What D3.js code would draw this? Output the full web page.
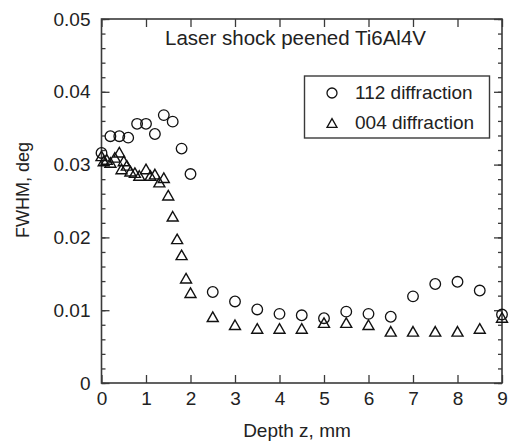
<!DOCTYPE html>
<html>
<head>
<meta charset="utf-8">
<script src="https://cdn.jsdelivr.net/npm/d3@7"></script>
<style>
  body { margin: 0; background: #fff; }
  text { font-family: "Liberation Sans", Arial, sans-serif; fill: #222; }
</style>
</head>
<body>
<svg id="chart" width="510" height="443"></svg>
<script>
// 112 diffraction (circles)
var depth112 = [0, 0.2, 0.4, 0.6, 0.8, 1.0, 1.2, 1.4, 1.6, 1.8, 2.0, 2.5, 3, 3.5, 4, 4.5, 5, 5.5, 6, 6.5, 7, 7.5, 8, 8.5, 9];
var fwhm112 = [0.0316, 0.0339, 0.0339, 0.0337, 0.0356, 0.0356, 0.0342, 0.0368, 0.0359, 0.0322, 0.0287,
  0.0125, 0.0112, 0.0101, 0.0095, 0.0093, 0.0089, 0.0098, 0.0095, 0.0091, 0.0119, 0.0136, 0.0139, 0.0127, 0.0094];

// 004 diffraction (triangles)
var depth004 = [0, 0.05, 0.12, 0.2, 0.3, 0.4, 0.45, 0.5, 0.57, 0.65, 0.75, 0.85, 1.0, 1.1, 1.2, 1.3, 1.4, 1.5,
  1.6, 1.7, 1.8, 1.9, 2.0, 2.5, 3, 3.5, 4, 4.5, 5, 5.5, 6, 6.5, 7, 7.5, 8, 8.5, 9];
var fwhm004 = [0.0312, 0.0305, 0.0307, 0.0303, 0.0310, 0.0317, 0.0294, 0.0305, 0.0299, 0.0291, 0.0289, 0.0285,
  0.0294, 0.0285, 0.0287, 0.0276, 0.0282, 0.0258, 0.0229, 0.0198, 0.0176, 0.0144, 0.0124,
  0.0091, 0.0080, 0.0075, 0.0075, 0.0075, 0.0083, 0.0083, 0.0080, 0.0071, 0.0071, 0.0071, 0.0071, 0.0075, 0.0090];

var xTicks = [0, 1, 2, 3, 4, 5, 6, 7, 8, 9];
var yTicks = [0, 0.01, 0.02, 0.03, 0.04, 0.05];
var yMinorTicks = d3.range(0, 0.0501, 0.002);

var title = "Laser shock peened Ti6Al4V";
var legendLabels = ["112 diffraction", "004 diffraction"];

var margin = { left: 101.5, right: 8, top: 19, bottom: 60 };
var width = 510, height = 443;

var svg = d3.select("#chart");

var x = d3.scaleLinear().domain([0, 9]).range([margin.left, width - margin.right]);
var y = d3.scaleLinear().domain([0, 0.05]).range([height - margin.bottom, margin.top]);

var frameColor = "#3a3a3a";

// triangle centred on its bounding box
function triPath(w) {
  var h = w * 0.87;
  return "M0," + (-h / 2) + "L" + (w / 2) + "," + (h / 2) + "L" + (-w / 2) + "," + (h / 2) + "Z";
}

// axes (ticks point inward)
var gx = svg.append("g")
  .attr("transform", "translate(0," + y(0) + ")")
  .call(d3.axisBottom(x).tickValues(xTicks).tickSize(-8).tickPadding(9).tickFormat(d3.format("d")));
var gxTop = svg.append("g")
  .attr("transform", "translate(0," + y(0.05) + ")")
  .call(d3.axisTop(x).tickValues(xTicks).tickSize(-8).tickFormat(""));
var gy = svg.append("g")
  .attr("transform", "translate(" + x(0) + ",0)")
  .call(d3.axisLeft(y).tickValues(yTicks).tickSize(-8).tickPadding(11)
    .tickFormat(function (d) { return d === 0 ? "0" : d3.format(".2f")(d); }));
var gyMinor = svg.append("g")
  .attr("transform", "translate(" + x(0) + ",0)")
  .call(d3.axisLeft(y).tickValues(yMinorTicks).tickSize(-4).tickFormat(""));
var gyR = svg.append("g")
  .attr("transform", "translate(" + x(9) + ",0)")
  .call(d3.axisRight(y).tickValues(yTicks).tickSize(-8).tickFormat(""));
var gyRMinor = svg.append("g")
  .attr("transform", "translate(" + x(9) + ",0)")
  .call(d3.axisRight(y).tickValues(yMinorTicks).tickSize(-4).tickFormat(""));

svg.selectAll(".domain").remove();
svg.selectAll(".tick line").attr("stroke", frameColor).attr("stroke-width", 1.3);
svg.selectAll(".tick text").attr("font-size", 19).attr("fill", "#222")
  .style("font-family", "'Liberation Sans', Arial, sans-serif");

// frame
svg.append("rect")
  .attr("x", x(0)).attr("y", y(0.05))
  .attr("width", x(9) - x(0)).attr("height", y(0) - y(0.05))
  .attr("fill", "none").attr("stroke", frameColor).attr("stroke-width", 1.6);

// axis titles
svg.append("text")
  .attr("x", 297).attr("y", 437)
  .attr("text-anchor", "middle").attr("font-size", 19)
  .text("Depth z, mm");
svg.append("text")
  .attr("transform", "translate(29,190) rotate(-90)")
  .attr("text-anchor", "middle").attr("font-size", 18)
  .text("FWHM, deg");

// title
svg.append("text")
  .attr("x", 165).attr("y", 45)
  .attr("font-size", 20.5)
  .text(title);

// data
var pts112 = depth112.map(function (d, i) { return { x: d, y: fwhm112[i] }; });
var pts004 = depth004.map(function (d, i) { return { x: d, y: fwhm004[i] }; });

svg.append("g").selectAll("path")
  .data(pts004)
  .enter().append("path")
  .attr("d", triPath(11))
  .attr("transform", function (d) { return "translate(" + x(d.x) + "," + y(d.y) + ")"; })
  .attr("fill", "none").attr("stroke", "#111").attr("stroke-width", 1.4);

svg.append("g").selectAll("circle")
  .data(pts112)
  .enter().append("circle")
  .attr("cx", function (d) { return x(d.x); })
  .attr("cy", function (d) { return y(d.y); })
  .attr("r", 5.3)
  .attr("fill", "none").attr("stroke", "#111").attr("stroke-width", 1.3);

// legend
var lg = svg.append("g");
lg.append("rect")
  .attr("x", 304.5).attr("y", 76).attr("width", 185).attr("height", 62)
  .attr("fill", "#fff").attr("stroke", frameColor).attr("stroke-width", 1.4);
lg.append("circle").attr("cx", 332).attr("cy", 93).attr("r", 5)
  .attr("fill", "none").attr("stroke", "#111").attr("stroke-width", 1.3);
lg.append("path").attr("d", triPath(10))
  .attr("transform", "translate(332,123)")
  .attr("fill", "none").attr("stroke", "#111").attr("stroke-width", 1.3);
lg.selectAll("text.lab")
  .data(legendLabels)
  .enter().append("text")
  .attr("class", "lab")
  .attr("x", 355)
  .attr("y", function (d, i) { return 99 + i * 29.5; })
  .attr("font-size", 19)
  .text(function (d) { return d; });
</script>
</body>
</html>
